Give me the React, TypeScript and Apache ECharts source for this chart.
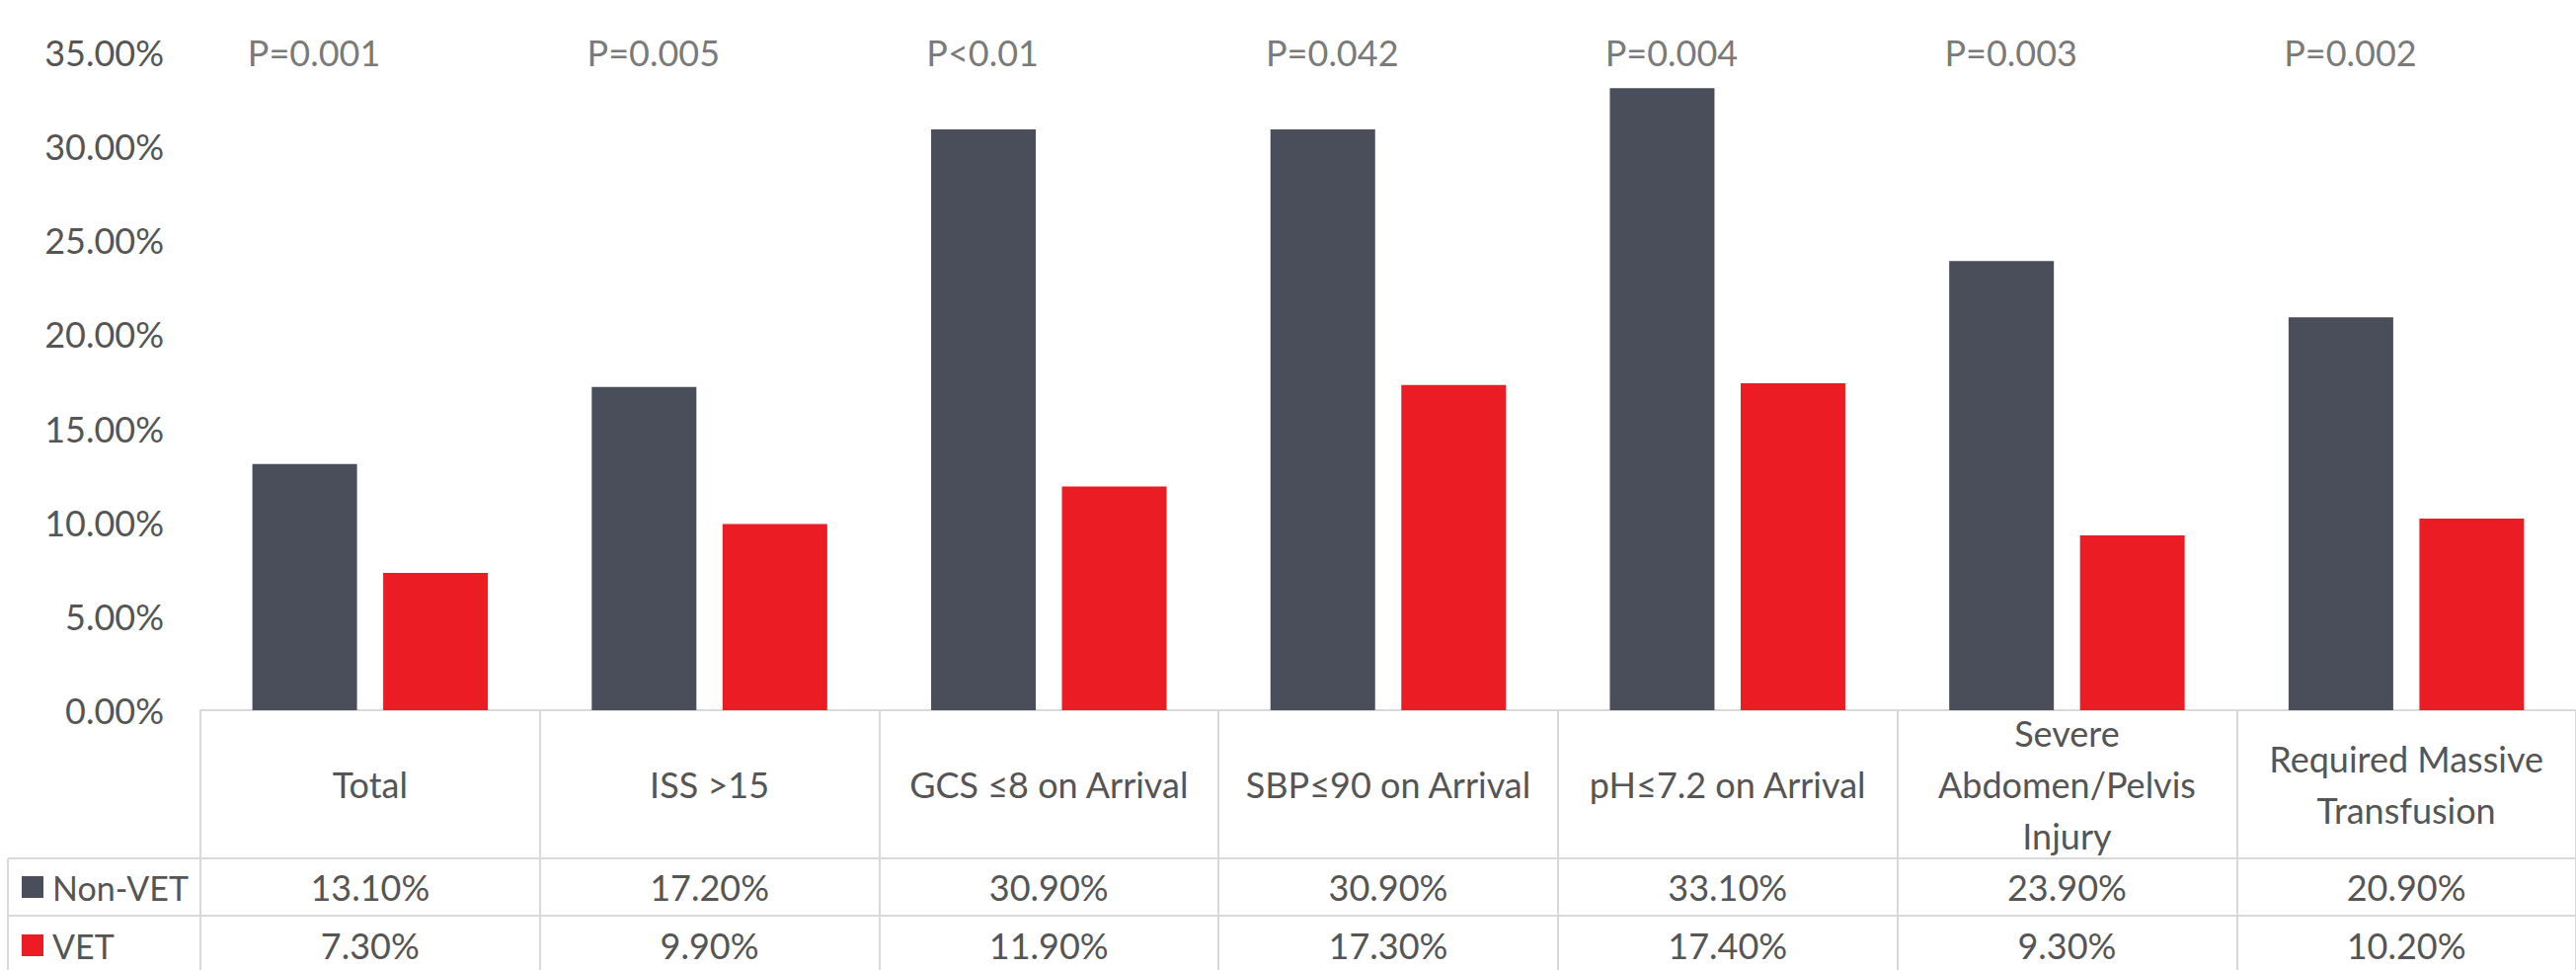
import React, { useEffect, useRef } from "react";
import * as echarts from "echarts";

const categories = [
  "Total",
  "ISS >15",
  "GCS ≤8 on Arrival",
  "SBP≤90 on Arrival",
  "pH≤7.2 on Arrival",
  "Severe\nAbdomen/Pelvis\nInjury",
  "Required Massive\nTransfusion",
];
const nonVet = [13.1, 17.2, 30.9, 30.9, 33.1, 23.9, 20.9];
const vet = [7.3, 9.9, 11.9, 17.3, 17.4, 9.3, 10.2];
const pLabels = ["P=0.001", "P=0.005", "P<0.01", "P=0.042", "P=0.004", "P=0.003", "P=0.002"];
const yTicks = { min: 0, max: 35, interval: 5 };

const FONT = "Lato";
const TEXT = "#555555";
const LINE = "#d9d9d9";
const DARK = "#4a4e5b";
const RED = "#ec1c24";

export default function App() {
  const ref = useRef<HTMLDivElement>(null);
  useEffect(() => {
    if (!ref.current) return;
    const chart = echarts.init(ref.current, undefined, { renderer: "svg" });
    const pct = (v: number) => v.toFixed(2) + "%";
    const baseLabel = { color: TEXT, fontSize: 36, fontFamily: FONT };
    chart.setOption({
      animation: false,
      backgroundColor: "#ffffff",
      textStyle: { fontFamily: FONT },
      grid: { left: 203, right: 0, top: 53, height: 666 },
      legend: {
        data: ["Non-VET", "VET"],
        orient: "vertical",
        left: 22,
        top: 881,
        padding: 0,
        itemWidth: 22,
        itemHeight: 22,
        itemGap: 25,
        icon: "rect",
        textStyle: { ...baseLabel, fontSize: 34, lineHeight: 34, padding: [0, 0, 0, 4] },
      },
      xAxis: [
        {
          type: "category",
          data: categories,
          position: "bottom",
          axisLine: { show: true, lineStyle: { color: LINE, width: 2 } },
          axisTick: { show: true, alignWithLabel: false, length: 263, lineStyle: { color: LINE, width: 2 } },
          axisLabel: { ...baseLabel, interval: 0, margin: 75, verticalAlign: "middle", lineHeight: 52 },
          splitLine: { show: false },
        },
        {
          type: "category",
          data: nonVet.map(pct),
          position: "bottom",
          offset: 150,
          axisLine: { show: true, lineStyle: { color: LINE, width: 2 } },
          axisTick: { show: false },
          axisLabel: { ...baseLabel, interval: 0, margin: 29, verticalAlign: "middle" },
        },
        {
          type: "category",
          data: vet.map(pct),
          position: "bottom",
          offset: 208,
          axisLine: { show: true, lineStyle: { color: LINE, width: 2 } },
          axisTick: { show: false },
          axisLabel: { ...baseLabel, interval: 0, margin: 30, verticalAlign: "middle" },
        },
      ],
      yAxis: {
        type: "value",
        min: yTicks.min,
        max: yTicks.max,
        interval: yTicks.interval,
        axisLine: { show: false },
        axisTick: { show: false },
        splitLine: { show: false },
        axisLabel: { ...baseLabel, margin: 37, formatter: (v: number) => pct(v) },
      },
      graphic: [
        { type: "line", shape: { x1: 8, y1: 869, x2: 203, y2: 869 }, style: { stroke: LINE, lineWidth: 2 } },
        { type: "line", shape: { x1: 8, y1: 927, x2: 203, y2: 927 }, style: { stroke: LINE, lineWidth: 2 } },
        { type: "line", shape: { x1: 8, y1: 869, x2: 8, y2: 982 }, style: { stroke: LINE, lineWidth: 2 } },
      ],
      series: [
        {
          name: "Non-VET",
          type: "bar",
          xAxisIndex: 0,
          data: nonVet,
          barWidth: 106,
          barGap: "25%",
          itemStyle: { color: DARK },
        },
        {
          name: "VET",
          type: "bar",
          xAxisIndex: 0,
          data: vet,
          barWidth: 106,
          barGap: "25%",
          itemStyle: { color: RED },
        },
        {
          name: "P",
          type: "scatter",
          xAxisIndex: 0,
          symbolSize: 1,
          itemStyle: { color: "transparent" },
          data: pLabels.map((_, i) => [i, yTicks.max]),
          label: {
            show: true,
            position: "inside",
            align: "left",
            verticalAlign: "middle",
            offset: [-124, 0],
            ...baseLabel,
            formatter: (p: any) => pLabels[p.dataIndex],
          },
        },
      ],
    });
    return () => chart.dispose();
  }, []);
  return (
    <div
      ref={ref}
      style={{ position: "fixed", left: 0, top: 0, width: 2609, height: 982 }}
    />
  );
}
